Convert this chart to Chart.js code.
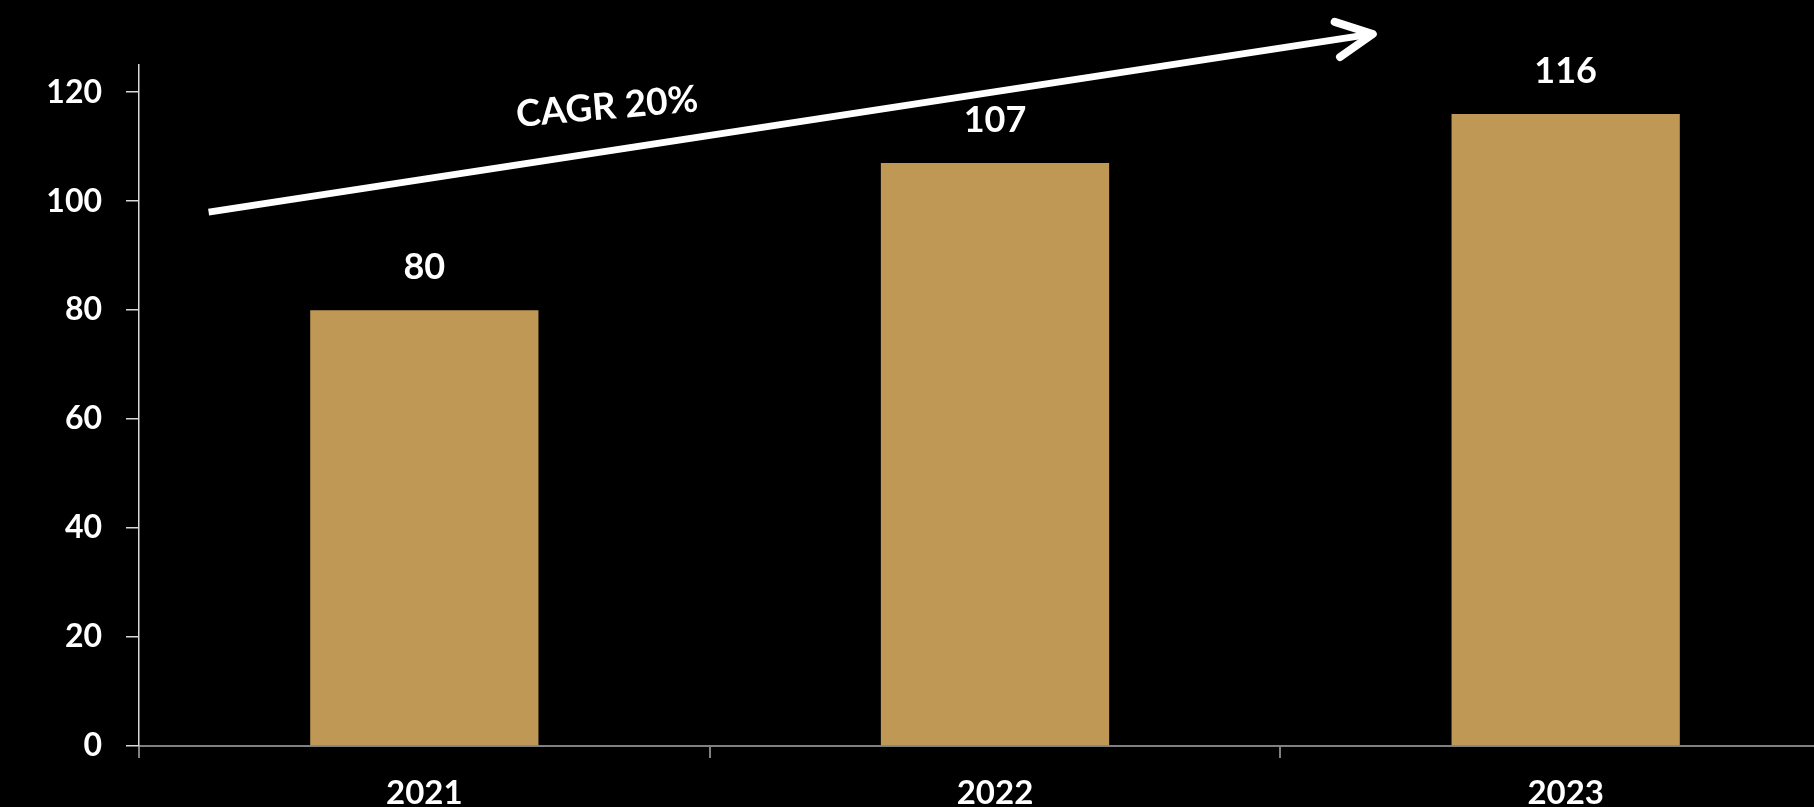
<!DOCTYPE html>
<html>
<head>
<meta charset="utf-8">
<script src="https://cdn.jsdelivr.net/npm/chart.js@4/dist/chart.umd.min.js"></script>
<style>
  html, body { margin: 0; padding: 0; background: #000; overflow: hidden; }
  #wrap { width: 1870px; height: 807px; }
</style>
</head>
<body>
<div id="wrap"><canvas id="chart" width="1870" height="807"></canvas></div>
<script>
const years = ["2021", "2022", "2023"]
const revenue = [80, 107, 116]
const yTicks = [0, 20, 40, 60, 80, 100, 120]
const cagrText = "CAGR 20%"

const FONT = "Lato, 'Open Sans', sans-serif"

// value labels above bars
const barLabels = {
  id: "barLabels",
  afterDatasetsDraw(chart) {
    const ctx = chart.ctx
    const meta = chart.getDatasetMeta(0)
    ctx.save()
    ctx.fillStyle = "#fff"
    ctx.font = `bold 36px ${FONT}`
    ctx.textAlign = "center"
    ctx.textBaseline = "alphabetic"
    meta.data.forEach((bar, i) => {
      ctx.fillText(String(revenue[i]), bar.x, bar.y - 31)
    })
    ctx.restore()
  }
}

// growth arrow + CAGR text
const cagrArrow = {
  id: "cagrArrow",
  afterDraw(chart) {
    const ctx = chart.ctx
    const x = chart.scales.x, y = chart.scales.y
    const x0 = x.getPixelForValue(-0.378), y0 = y.getPixelForValue(98)
    const x1 = x.getPixelForValue(1.662), y1 = y.getPixelForValue(130.7)
    const ang = Math.atan2(y1 - y0, x1 - x0)

    ctx.save()
    ctx.strokeStyle = "#fff"
    ctx.lineWidth = 7
    ctx.beginPath()
    ctx.moveTo(x0, y0)
    ctx.lineTo(x1 - 3 * Math.cos(ang), y1 - 3 * Math.sin(ang))
    ctx.stroke()

    ctx.lineCap = "round"
    ctx.lineJoin = "round"
    ctx.lineWidth = 8
    const len = 40, spread = 0.46
    ctx.beginPath()
    ctx.moveTo(x1 - len * Math.cos(ang - spread), y1 - len * Math.sin(ang - spread))
    ctx.lineTo(x1, y1)
    ctx.lineTo(x1 - len * Math.cos(ang + spread), y1 - len * Math.sin(ang + spread))
    ctx.stroke()

    ctx.translate(x.getPixelForValue(0.322), y.getPixelForValue(115.1))
    ctx.rotate(-5 * Math.PI / 180)
    ctx.fillStyle = "#fff"
    ctx.font = `bold 37px ${FONT}`
    ctx.textAlign = "center"
    ctx.textBaseline = "alphabetic"
    ctx.fillText(cagrText, 0, 0)
    ctx.restore()
  }
}

new Chart(document.getElementById("chart"), {
  type: "bar",
  data: {
    labels: years,
    datasets: [{
      data: revenue,
      backgroundColor: "#c09856",
      borderWidth: 0,
      barPercentage: 0.4,
      categoryPercentage: 1
    }]
  },
  options: {
    responsive: false,
    animation: false,
    devicePixelRatio: 1,
    layout: { padding: { top: 65, left: 0, right: 19, bottom: 0 } },
    plugins: { legend: { display: false }, tooltip: { enabled: false } },
    scales: {
      x: {
        afterFit: s => { s.height = 61 },
        grid: { drawOnChartArea: false, offset: true, tickLength: 12, color: "#808080", lineWidth: 2 },
        border: { color: "#808080", width: 2 },
        ticks: { color: "#fff", font: { family: FONT, size: 33, weight: "bold" }, padding: 16 }
      },
      y: {
        min: 0,
        max: 125,
        afterFit: s => { s.width = 139 },
        afterBuildTicks: s => { s.ticks = yTicks.map(v => ({ value: v })) },
        grid: { drawOnChartArea: false, tickLength: 13, color: "#d9d9d9", lineWidth: 1.5 },
        border: { color: "#d9d9d9", width: 1.5 },
        ticks: { color: "#fff", font: { family: FONT, size: 32, weight: "bold" }, padding: 24 }
      }
    }
  },
  plugins: [barLabels, cagrArrow]
})
</script>
</body>
</html>
